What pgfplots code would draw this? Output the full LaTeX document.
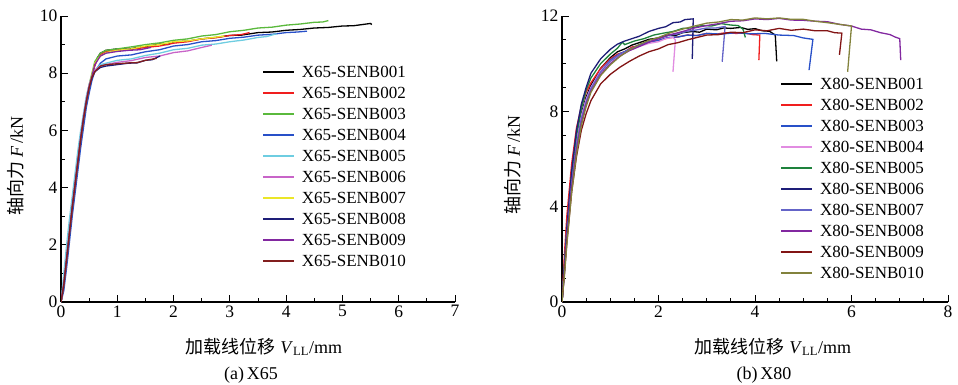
\documentclass[border=0pt]{standalone}
\usepackage{fontspec}
\setmainfont{Liberation Serif}
\newfontfamily\cjk{Noto Sans CJK SC}
\usepackage{pgfplots}
\pgfplotsset{compat=1.18}
\definecolor{cA}{RGB}{0,0,0}
\definecolor{cB}{RGB}{240,30,30}
\definecolor{cC}{RGB}{90,185,60}
\definecolor{cD}{RGB}{40,80,200}
\definecolor{cE}{RGB}{110,205,225}
\definecolor{cF}{RGB}{200,100,200}
\definecolor{cG}{RGB}{235,230,40}
\definecolor{cH}{RGB}{30,30,120}
\definecolor{cI}{RGB}{130,40,160}
\definecolor{cJ}{RGB}{130,30,30}
\definecolor{dD}{RGB}{40,80,200}
\definecolor{dE}{RGB}{225,140,225}
\definecolor{dF}{RGB}{30,130,60}
\definecolor{dG}{RGB}{30,30,120}
\definecolor{dH}{RGB}{100,100,200}
\definecolor{dI}{RGB}{130,40,160}
\definecolor{dJ}{RGB}{130,20,20}
\definecolor{dK}{RGB}{130,130,60}
\pgfplotsset{
  mystyle/.style={
    scale only axis,
    anchor=south west,
    axis x line=bottom, axis y line=left,
    axis line style={line width=1.2pt,-},
    every tick/.style={black,line width=1pt},
    major tick length=7pt, minor tick length=4pt,
    tick align=inside,
    /pgf/number format/assume math mode=true,
    tick label style={font=\fontsize{17.5}{20}\selectfont},
    legend cell align=left,
    legend style={draw=none,fill=none,inner sep=0pt,
      font=\fontsize{17}{20}\selectfont,
      nodes={inner ysep=1pt,text height=15pt,text depth=4pt},
      /tikz/every odd column/.append style={column sep=5pt}},
    legend image code/.code={\draw[##1,line width=1.8pt] (0pt,0pt) -- (31pt,0pt);},
    every axis plot/.append style={line width=1.3pt, no marks, sharp plot},
  }
}
\begin{document}
\begin{tikzpicture}
\useasboundingbox (0,0) rectangle (958pt,384pt);
\begin{axis}[mystyle, at={(61pt,82pt)}, width=394pt, height=286pt,
  xmin=0, xmax=7, ymin=0, ymax=10,
  xtick={0,1,...,7}, minor x tick num=1,
  ytick={0,2,...,10}, minor y tick num=1,
  legend style={at={(0.51,0.842)},anchor=north west}]
\addplot[cA] coordinates {(0,0)(0.05,0.6)(0.1,1.5)(0.15,2.4)(0.2,3.3)(0.25,4.1)(0.3,4.9)(0.35,5.7)(0.4,6.4)(0.45,7.0)(0.5,7.5)(0.55,7.9)(0.6,8.3)(0.65,8.55)(0.7,8.7)(0.8,8.8)(1.0,8.85)(1.2,8.84)(1.35,8.9)(1.5,8.93)(1.75,9.02)(1.9,9.0)(2.0,9.1)(2.25,9.12)(2.5,9.2)(2.75,9.25)(3,9.32)(3.2,9.33)(3.5,9.42)(3.75,9.44)(4,9.5)(4.25,9.53)(4.5,9.58)(4.75,9.6)(5,9.65)(5.2,9.66)(5.35,9.7)(5.5,9.74)(5.52,9.7)};
\addplot[cB] coordinates {(0,0)(0.05,0.6)(0.1,1.5)(0.15,2.4)(0.2,3.3)(0.25,4.1)(0.3,4.9)(0.35,5.7)(0.4,6.4)(0.45,7.0)(0.5,7.5)(0.55,7.9)(0.6,8.25)(0.65,8.5)(0.7,8.65)(0.8,8.75)(1,8.8)(1.25,8.83)(1.5,8.9)(1.75,8.95)(2,9.05)(2.25,9.1)(2.5,9.2)(2.75,9.24)(3,9.32)(3.2,9.35)(3.35,9.42)};
\addplot[cC] coordinates {(0,0)(0.05,0.7)(0.1,1.6)(0.15,2.5)(0.2,3.4)(0.25,4.2)(0.3,5.0)(0.35,5.8)(0.4,6.5)(0.45,7.1)(0.5,7.6)(0.55,8.0)(0.6,8.4)(0.7,8.7)(0.8,8.8)(1,8.85)(1.25,8.92)(1.5,9.0)(1.75,9.06)(2,9.15)(2.25,9.2)(2.5,9.3)(2.75,9.35)(3,9.45)(3.25,9.5)(3.5,9.58)(3.75,9.61)(4,9.68)(4.25,9.72)(4.5,9.78)(4.65,9.79)(4.75,9.84)};
\addplot[cD] coordinates {(0,0)(0.05,0.4)(0.1,1.2)(0.15,2.1)(0.2,3.0)(0.25,3.8)(0.3,4.6)(0.35,5.4)(0.4,6.1)(0.45,6.8)(0.5,7.3)(0.55,7.75)(0.6,8.05)(0.7,8.35)(0.8,8.5)(1,8.6)(1.25,8.64)(1.5,8.75)(1.75,8.82)(2,8.95)(2.25,9.0)(2.5,9.1)(2.75,9.14)(3,9.22)(3.25,9.26)(3.5,9.33)(3.75,9.36)(4,9.42)(4.2,9.44)(4.37,9.47)};
\addplot[cE] coordinates {(0,0)(0.05,1.0)(0.1,2.0)(0.15,2.9)(0.2,3.7)(0.25,4.5)(0.3,5.3)(0.35,6.0)(0.4,6.6)(0.45,7.2)(0.5,7.6)(0.55,7.9)(0.6,8.1)(0.7,8.3)(0.8,8.35)(1,8.45)(1.25,8.5)(1.5,8.62)(1.75,8.7)(2,8.82)(2.25,8.87)(2.5,8.98)(2.75,9.02)(3,9.1)(3.25,9.16)(3.5,9.25)(3.65,9.28)(3.83,9.38)};
\addplot[cF] coordinates {(0,0)(0.05,0.7)(0.1,1.6)(0.15,2.5)(0.2,3.4)(0.25,4.2)(0.3,5.0)(0.35,5.8)(0.4,6.5)(0.45,7.1)(0.5,7.6)(0.55,7.9)(0.6,8.1)(0.7,8.25)(0.8,8.3)(1,8.38)(1.25,8.44)(1.5,8.55)(1.75,8.6)(2,8.72)(2.25,8.78)(2.5,8.9)(2.68,8.98)};
\addplot[cG] coordinates {(0,0)(0.05,0.6)(0.1,1.5)(0.15,2.4)(0.2,3.3)(0.25,4.1)(0.3,4.9)(0.35,5.7)(0.4,6.4)(0.45,7.0)(0.5,7.5)(0.55,7.95)(0.6,8.35)(0.7,8.6)(0.8,8.72)(1,8.8)(1.25,8.85)(1.5,8.95)(1.75,9.0)(2,9.1)(2.25,9.13)(2.5,9.2)(2.9,9.3)};
\addplot[cH] coordinates {(0,0)(0.05,0.6)(0.1,1.5)(0.15,2.4)(0.2,3.3)(0.25,4.1)(0.3,4.9)(0.35,5.7)(0.4,6.4)(0.45,7.0)(0.5,7.5)(0.55,7.85)(0.6,8.05)(0.7,8.2)(0.8,8.25)(1,8.3)(1.2,8.35)(1.35,8.36)(1.5,8.45)(1.62,8.47)(1.76,8.6)};
\addplot[cI] coordinates {(0,0)(0.05,0.6)(0.1,1.5)(0.15,2.4)(0.2,3.3)(0.25,4.1)(0.3,4.9)(0.35,5.7)(0.4,6.4)(0.45,7.0)(0.5,7.5)(0.55,7.9)(0.6,8.3)(0.7,8.6)(0.8,8.7)(1,8.76)(1.2,8.8)(1.4,8.82)(1.6,8.9)};
\addplot[cJ] coordinates {(0,0)(0.05,0.6)(0.1,1.5)(0.15,2.4)(0.2,3.3)(0.25,4.1)(0.3,4.9)(0.35,5.7)(0.4,6.4)(0.45,7.0)(0.5,7.5)(0.55,7.85)(0.6,8.05)(0.7,8.25)(0.8,8.3)(1,8.33)(1.2,8.36)(1.35,8.37)(1.5,8.45)(1.7,8.52)};
\legend{X65-SENB001,X65-SENB002,X65-SENB003,X65-SENB004,X65-SENB005,X65-SENB006,X65-SENB007,X65-SENB008,X65-SENB009,X65-SENB010}
\end{axis}
\begin{axis}[mystyle, at={(562pt,82pt)}, width=386pt, height=286pt,
  xmin=0, xmax=8, ymin=0, ymax=12,
  xtick={0,2,...,8}, minor x tick num=3,
  ytick={0,4,...,12}, minor y tick num=3,
  legend style={at={(0.565,0.80)},anchor=north west}]
\addplot[cA] coordinates {(0,0)(0.05,1.6)(0.1,3.1)(0.2,5.3)(0.3,6.9)(0.4,7.9)(0.5,8.6)(0.6,9.1)(0.8,9.8)(1,10.25)(1.15,10.5)(1.3,10.62)(1.45,10.78)(1.6,10.88)(1.8,11.02)(2,11.08)(2.2,11.2)(2.35,11.18)(2.5,11.3)(2.7,11.35)(2.85,11.32)(3,11.45)(3.2,11.42)(3.35,11.5)(3.5,11.48)(3.7,11.52)(3.85,11.44)(4,11.47)(4.15,11.38)(4.3,11.36)(4.42,11.2)(4.45,10.1)};
\addplot[cB] coordinates {(0,0)(0.05,2)(0.1,3.6)(0.2,5.8)(0.3,7.3)(0.4,8.2)(0.5,8.8)(0.6,9.2)(0.8,9.8)(1,10.2)(1.15,10.4)(1.3,10.5)(1.45,10.7)(1.6,10.75)(1.8,10.92)(2,10.98)(2.2,11.08)(2.4,11.12)(2.6,11.2)(2.8,11.18)(3,11.27)(3.2,11.24)(3.4,11.3)(3.6,11.27)(3.8,11.28)(3.95,11.22)(4.1,11.2)(4.08,10.15)};
\addplot[dD] coordinates {(0,0)(0.05,1.4)(0.1,2.9)(0.2,5.1)(0.3,6.7)(0.4,7.8)(0.5,8.5)(0.6,9.0)(0.8,9.7)(1,10.15)(1.2,10.42)(1.4,10.6)(1.6,10.76)(1.8,10.9)(2,10.98)(2.2,11.1)(2.4,11.12)(2.6,11.2)(2.8,11.18)(3,11.27)(3.3,11.24)(3.6,11.3)(3.9,11.25)(4.2,11.27)(4.5,11.2)(4.8,11.18)(5,11.08)(5.2,11.02)(5.12,9.73)};
\addplot[dE] coordinates {(0,0)(0.05,1.5)(0.1,3.0)(0.2,5.2)(0.3,6.8)(0.4,7.8)(0.5,8.5)(0.6,9.0)(0.8,9.7)(1,10.1)(1.2,10.38)(1.4,10.55)(1.6,10.72)(1.8,10.85)(2,10.92)(2.15,11.05)(2.3,11.1)(2.35,11.0)(2.3,9.66)};
\addplot[dF] coordinates {(0,0)(0.05,1.5)(0.1,3.0)(0.2,5.3)(0.3,7.0)(0.4,8.1)(0.5,8.9)(0.6,9.4)(0.8,10.0)(1,10.4)(1.15,10.65)(1.25,10.9)(1.3,10.8)(1.5,10.95)(1.7,11.05)(1.9,11.2)(2.1,11.28)(2.3,11.35)(2.5,11.48)(2.7,11.5)(2.9,11.6)(3.1,11.58)(3.3,11.68)(3.5,11.62)(3.65,11.6)(3.75,11.45)(3.8,11.1)};
\addplot[dG] coordinates {(0,0)(0.05,1.5)(0.1,3.1)(0.2,5.5)(0.3,7.2)(0.4,8.3)(0.5,9.0)(0.6,9.6)(0.8,10.2)(1,10.6)(1.15,10.82)(1.3,10.95)(1.45,11.05)(1.6,11.15)(1.8,11.35)(2,11.48)(2.15,11.55)(2.3,11.72)(2.45,11.75)(2.55,11.85)(2.72,11.88)(2.7,10.2)};
\addplot[dH] coordinates {(0,0)(0.05,1.3)(0.1,2.8)(0.2,5.0)(0.3,6.6)(0.4,7.7)(0.5,8.4)(0.6,8.95)(0.8,9.65)(1,10.1)(1.2,10.4)(1.4,10.6)(1.6,10.8)(1.8,10.92)(2,11.05)(2.2,11.18)(2.4,11.25)(2.6,11.36)(2.8,11.42)(3,11.5)(3.2,11.5)(3.38,11.56)(3.32,10.08)};
\addplot[dI] coordinates {(0,0)(0.05,1.2)(0.1,2.6)(0.2,4.8)(0.3,6.4)(0.4,7.5)(0.5,8.3)(0.6,8.85)(0.8,9.55)(1,10.0)(1.2,10.32)(1.4,10.55)(1.6,10.72)(1.8,10.9)(2,11.05)(2.25,11.22)(2.5,11.35)(2.75,11.5)(3,11.6)(3.25,11.68)(3.5,11.78)(3.75,11.8)(4,11.88)(4.25,11.85)(4.5,11.9)(4.75,11.83)(5,11.82)(5.25,11.78)(5.5,11.76)(5.75,11.65)(6,11.58)(6.2,11.45)(6.4,11.42)(6.6,11.3)(6.8,11.22)(6.9,11.12)(7,11.05)(7.02,10.15)};
\addplot[dJ] coordinates {(0,0)(0.05,1.2)(0.1,2.5)(0.2,4.6)(0.3,6.1)(0.4,7.2)(0.5,7.9)(0.6,8.45)(0.8,9.15)(1,9.55)(1.2,9.85)(1.4,10.1)(1.6,10.32)(1.8,10.5)(2,10.62)(2.2,10.8)(2.4,10.88)(2.6,11.0)(2.8,11.1)(3,11.2)(3.25,11.22)(3.5,11.32)(3.75,11.3)(4,11.42)(4.25,11.38)(4.5,11.48)(4.75,11.4)(5,11.45)(5.25,11.38)(5.5,11.38)(5.65,11.3)(5.8,11.28)(5.75,10.37)};
\addplot[dK] coordinates {(0,0)(0.05,1.1)(0.1,2.4)(0.2,4.6)(0.3,6.2)(0.4,7.4)(0.5,8.2)(0.6,8.8)(0.8,9.5)(1,9.95)(1.2,10.3)(1.4,10.58)(1.6,10.8)(1.8,10.98)(2,11.1)(2.25,11.3)(2.5,11.45)(2.75,11.58)(3,11.7)(3.25,11.75)(3.5,11.85)(3.75,11.83)(4,11.92)(4.25,11.88)(4.5,11.92)(4.75,11.86)(5,11.86)(5.25,11.78)(5.5,11.72)(5.75,11.65)(6.0,11.58)(5.92,9.66)};
\legend{X80-SENB001,X80-SENB002,X80-SENB003,X80-SENB004,X80-SENB005,X80-SENB006,X80-SENB007,X80-SENB008,X80-SENB009,X80-SENB010}
\end{axis}
\node[rotate=90,font=\fontsize{18}{20}\selectfont] at (16pt,218pt) {{\cjk 轴向力} \textit{F}\,/kN};
\node[font=\fontsize{18}{20}\selectfont] at (264pt,37pt) {{\cjk 加载线位移} \textit{V}\textsubscript{LL}/mm};
\node[font=\fontsize{18}{20}\selectfont] at (251pt,9pt) {(a)\,X65};
\node[rotate=90,font=\fontsize{18}{20}\selectfont] at (513pt,219pt) {{\cjk 轴向力} \textit{F}\,/kN};
\node[font=\fontsize{18}{20}\selectfont] at (773pt,37pt) {{\cjk 加载线位移} \textit{V}\textsubscript{LL}/mm};
\node[font=\fontsize{18}{20}\selectfont] at (764pt,9pt) {(b)\,X80};
\end{tikzpicture}
\end{document}
